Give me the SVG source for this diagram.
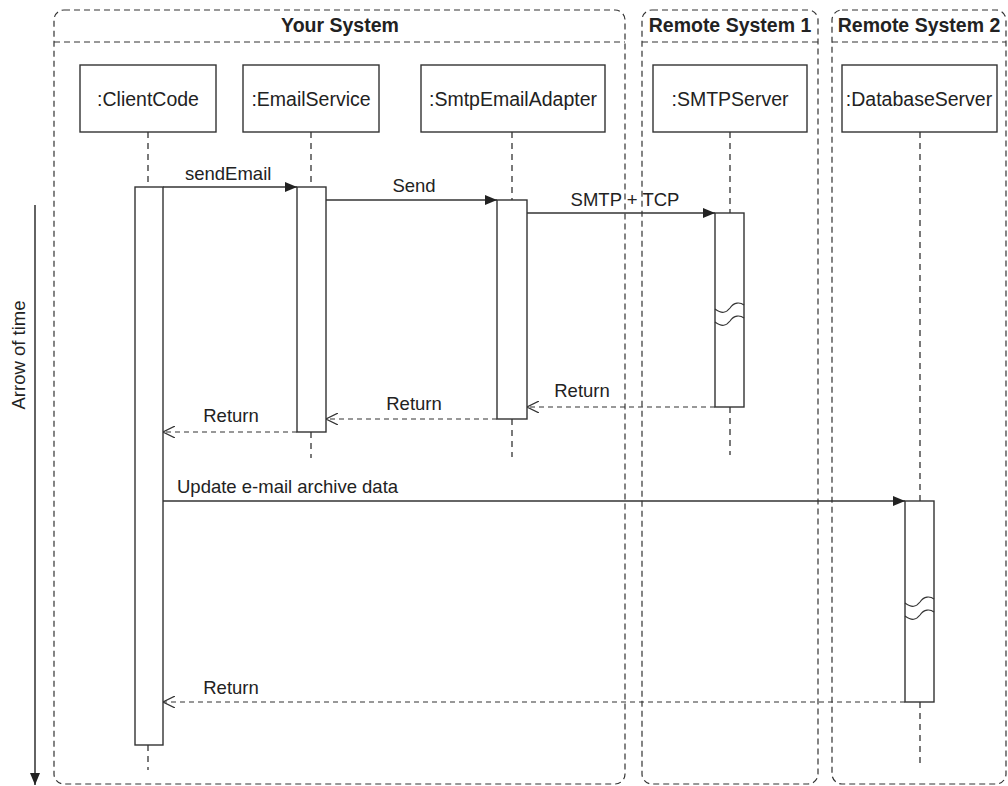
<svg xmlns="http://www.w3.org/2000/svg" width="1008" height="786" viewBox="0 0 1008 786">
<style>
text{font-family:"Liberation Sans",Arial,sans-serif;fill:#222;font-size:18.5px}
.hdr{font-weight:bold;font-size:19.5px}
.nl{font-size:19.5px}
.frame{fill:none;stroke:#333;stroke-width:1.2;stroke-dasharray:6 4}
.node{fill:#fff;stroke:#333;stroke-width:1.4}
.life{stroke:#333;stroke-width:1.3;stroke-dasharray:6 5;fill:none}
.act{fill:#fff;stroke:#333;stroke-width:1.4}
.msg{stroke:#333;stroke-width:1.4;fill:none}
.ret{stroke:#333;stroke-width:1.2;fill:none;stroke-dasharray:5 4}
.wave{fill:none;stroke:#333;stroke-width:1.2}
</style>
<defs>
<marker id="filled" viewBox="0 0 12 10" refX="12" refY="5" markerWidth="12" markerHeight="10" markerUnits="userSpaceOnUse" orient="auto">
<path d="M0,0 L12,5 L0,10 Z" fill="#222"/>
</marker>
<marker id="open" viewBox="0 0 12 12" refX="12" refY="6" markerWidth="12" markerHeight="12" markerUnits="userSpaceOnUse" orient="auto">
<path d="M0,0 L12,6 L0,12" fill="none" stroke="#333" stroke-width="1.2"/>
</marker>
</defs>

<g id="frame-your-system">
<rect class="frame" x="54" y="10" width="571" height="774" rx="10"/>
<line class="frame" x1="54" y1="42" x2="625" y2="42"/>
<text class="hdr" x="340" y="32" text-anchor="middle">Your System</text>
</g>
<g id="frame-remote-1">
<rect class="frame" x="642" y="10" width="176" height="774" rx="10"/>
<line class="frame" x1="642" y1="42" x2="818" y2="42"/>
<text class="hdr" x="730" y="32" text-anchor="middle">Remote System 1</text>
</g>
<g id="frame-remote-2">
<rect class="frame" x="832" y="10" width="174" height="774" rx="10"/>
<line class="frame" x1="832" y1="42" x2="1006" y2="42"/>
<text class="hdr" x="919" y="32" text-anchor="middle">Remote System 2</text>
</g>

<g id="time-axis">
<line x1="35" y1="205" x2="35" y2="785" stroke="#222" stroke-width="1.4" marker-end="url(#filled)"/>
<text x="0" y="0" transform="translate(25,355) rotate(-90)" text-anchor="middle" font-size="16">Arrow of time</text>
</g>

<g id="node-clientcode">
<rect class="node" x="80" y="65" width="136" height="67"/>
<text class="nl" x="148" y="106" text-anchor="middle">:ClientCode</text>
<line class="life" x1="148" y1="132" x2="148" y2="187"/>
<line class="life" x1="148" y1="745" x2="148" y2="770"/>
<rect class="act" x="135" y="187" width="28" height="558"/>
</g>
<g id="node-emailservice">
<rect class="node" x="243" y="65" width="136" height="67"/>
<text class="nl" x="311" y="106" text-anchor="middle">:EmailService</text>
<line class="life" x1="311" y1="132" x2="311" y2="187"/>
<line class="life" x1="311" y1="432" x2="311" y2="458"/>
<rect class="act" x="297" y="187" width="29" height="245"/>
</g>
<g id="node-smtpemailadapter">
<rect class="node" x="421" y="65" width="184" height="67"/>
<text class="nl" x="513" y="106" text-anchor="middle">:SmtpEmailAdapter</text>
<line class="life" x1="512" y1="132" x2="512" y2="200"/>
<line class="life" x1="512" y1="419" x2="512" y2="457"/>
<rect class="act" x="497" y="200" width="30" height="219"/>
</g>
<g id="node-smtpserver">
<rect class="node" x="653" y="65" width="154" height="67"/>
<text class="nl" x="730" y="106" text-anchor="middle">:SMTPServer</text>
<line class="life" x1="730" y1="132" x2="730" y2="213"/>
<line class="life" x1="730" y1="407" x2="730" y2="455"/>
<rect class="act" x="715" y="213" width="29" height="194"/>
<path class="wave" d="M715,309 C722,314 726,313 730,308 C734,302 740,302 744,305"/>
<path class="wave" d="M715,322 C722,327 726,326 730,321 C734,315 740,315 744,318"/>
</g>
<g id="node-databaseserver">
<rect class="node" x="842" y="65" width="155" height="67"/>
<text class="nl" x="919" y="106" text-anchor="middle">:DatabaseServer</text>
<line class="life" x1="920" y1="132" x2="920" y2="501"/>
<line class="life" x1="920" y1="702" x2="920" y2="767"/>
<rect class="act" x="905" y="501" width="29" height="201"/>
<path class="wave" d="M905,603 C912,608 916,607 920,602 C924,596 930,596 934,599"/>
<path class="wave" d="M905,616 C912,621 916,620 920,615 C924,609 930,609 934,612"/>
</g>

<g id="connectors">
<line class="msg" x1="163" y1="187" x2="297" y2="187" marker-end="url(#filled)"/>
<text x="185" y="180">sendEmail</text>
<line class="msg" x1="326" y1="200" x2="497" y2="200" marker-end="url(#filled)"/>
<text x="414" y="192" text-anchor="middle">Send</text>
<line class="msg" x1="527" y1="213" x2="715" y2="213" marker-end="url(#filled)"/>
<text x="625" y="206" text-anchor="middle">SMTP + TCP</text>
<line class="ret" x1="715" y1="407" x2="527" y2="407" marker-end="url(#open)"/>
<text x="582" y="397" text-anchor="middle">Return</text>
<line class="ret" x1="497" y1="419" x2="326" y2="419" marker-end="url(#open)"/>
<text x="414" y="410" text-anchor="middle">Return</text>
<line class="ret" x1="297" y1="432" x2="163" y2="432" marker-end="url(#open)"/>
<text x="231" y="422" text-anchor="middle">Return</text>
<line class="msg" x1="163" y1="501" x2="905" y2="501" marker-end="url(#filled)"/>
<text x="177" y="493">Update e-mail archive data</text>
<line class="ret" x1="905" y1="702" x2="163" y2="702" marker-end="url(#open)"/>
<text x="231" y="694" text-anchor="middle">Return</text>
</g>
</svg>
